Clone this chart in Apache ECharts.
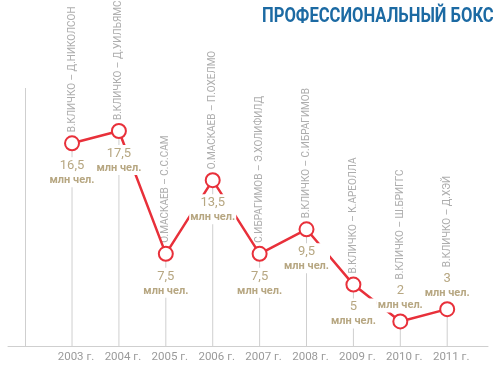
<!DOCTYPE html>
<html>
<head>
<meta charset="utf-8">
<script src="https://cdn.jsdelivr.net/npm/echarts@6/dist/echarts.min.js"></script>
<style>html,body{margin:0;padding:0;background:#fff}#c{width:499px;height:367px}</style>
</head>
<body>
<div id="c"></div>
<script>
const title = 'ПРОФЕССИОНАЛЬНЫЙ БОКС';
const years = [2003, 2004, 2005, 2006, 2007, 2008, 2009, 2010, 2011];
const viewers = [16.5, 17.5, 7.5, 13.5, 7.5, 9.5, 5, 2, 3];
const fights = [
  'В.КЛИЧКО – Д.НИКОЛСОН',
  'В.КЛИЧКО – Д.УИЛЬЯМС',
  'О.МАСКАЕВ – С.С.САМ',
  'О.МАСКАЕВ – П.ОХЕЛМО',
  'С.ИБРАГИМОВ – Э.ХОЛИФИЛД',
  'В.КЛИЧКО – С.ИБРАГИМОВ',
  'В.КЛИЧКО – К.АРЕОЛЛА',
  'В.КЛИЧКО – Ш.БРИГГС',
  'В.КЛИЧКО – Д.ХЭЙ'
];
const unit = 'млн чел.';
const yearSuffix = ' г.';
const guideYear = 2002;

const FONT = "Roboto, 'Liberation Sans', sans-serif";
const chart = echarts.init(document.getElementById('c'), null, {renderer: 'canvas'});

const labelAbove = (y) => y >= 2010;

const lineData = years.map((y, i) => ({
  value: [y, viewers[i]],
  label: {position: labelAbove(y) ? 'top' : 'bottom', distance: labelAbove(y) ? 1 : 6}
}));
const fightData = years.map((y, i) => ({
  value: [y, viewers[i]],
  name: fights[i],
  label: {distance: labelAbove(y) ? 42 : 11}
}));

chart.setOption({
  animation: false,
  backgroundColor: '#fff',
  graphic: [{
    type: 'text',
    x: 262, y: 6,
    scaleX: 0.79,
    originX: 0,
    style: {
      text: title,
      fill: '#1c6aa3',
      font: 'bold 21px ' + FONT,
      textVerticalAlign: 'top'
    }
  }],
  grid: {left: 8, right: 11, top: 88, bottom: 21},
  xAxis: {
    type: 'value',
    min: 2001.635, max: 2011.87,
    axisLine: {show: true, lineStyle: {color: '#cfcfcf', width: 1}},
    axisTick: {show: false},
    splitLine: {show: false},
    axisLabel: {
      customValues: years,
      formatter: (v) => v + yearSuffix,
      color: '#9a9a9a', fontSize: 11.5, fontFamily: FONT,
      margin: 5, padding: [0, 0, 0, 8]
    }
  },
  yAxis: {
    type: 'value', min: 0, max: 21,
    show: false, splitLine: {show: false}
  },
  series: [
    {
      type: 'bar',
      data: years.map((y, i) => [y, viewers[i]]),
      barWidth: 1,
      itemStyle: {color: '#cfcfcf'},
      z: 1,
      silent: true,
      markLine: {
        silent: true,
        symbol: 'none',
        label: {show: false},
        lineStyle: {color: '#cfcfcf', type: 'solid', width: 1},
        data: [{xAxis: guideYear}]
      }
    },
    {
      type: 'line',
      data: lineData,
      z: 3,
      symbol: 'circle',
      symbolSize: 14,
      lineStyle: {color: '#e8303a', width: 2.5},
      itemStyle: {color: '#fff', borderColor: '#e8303a', borderWidth: 2},
      label: {
        show: true,
        formatter: (p) => '{v|' + String(p.value[1]).replace('.', ',') + '}\n{u|' + unit + '}',
        backgroundColor: '#fff',
        padding: [1, 1, 0, 1],
        rich: {
          v: {color: '#b7a782', fontSize: 13, fontFamily: FONT, lineHeight: 15, align: 'center'},
          u: {color: '#b7a782', fontSize: 11, fontWeight: 'bold', fontFamily: FONT, lineHeight: 14, align: 'center'}
        }
      }
    },
    {
      type: 'scatter',
      data: fightData,
      symbolSize: 0,
      z: 2,
      silent: true,
      label: {
        show: true,
        formatter: (p) => p.name,
        position: 'top',
        rotate: 90,
        align: 'left',
        verticalAlign: 'middle',
        color: '#999999',
        fontSize: 10,
        fontFamily: FONT
      }
    }
  ]
});
</script>
</body>
</html>
